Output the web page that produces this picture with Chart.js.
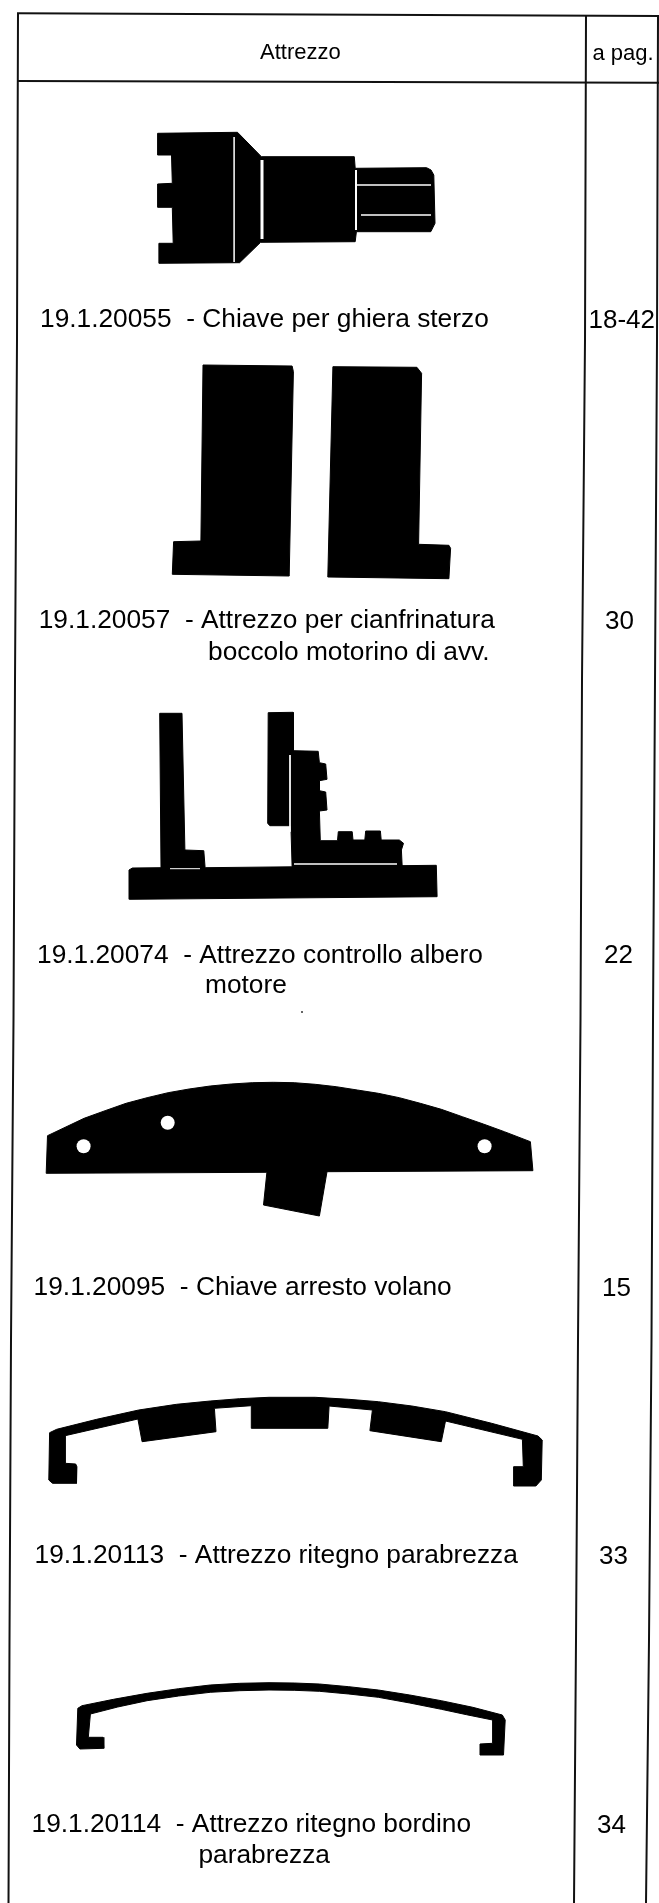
<!DOCTYPE html>
<html><head><meta charset="utf-8"><title>Attrezzo</title>
<style>html,body{margin:0;padding:0;background:#fff}canvas{display:block}</style>
<script src="https://cdn.jsdelivr.net/npm/chart.js@4/dist/chart.umd.min.js"></script>
</head><body><canvas id="c" width="659" height="1903"></canvas>
<script>
// Table rules
const ruleLeft=[[18,13],[17,340],[15,680],[13.5,1020],[11,1340],[9.5,1640],[8.5,1903]];
const ruleMiddle=[[586,15],[585,340],[582,680],[580.5,1020],[578,1340],[576,1640],[574,1903]];
const ruleRight=[[658,16],[657,340],[655,680],[653,1020],[651.5,1340],[649,1640],[646,1903]];
const ruleTop=[[17,13.3],[659,16]];
const ruleHeader=[[17,81],[659,82.7]];

// Silhouettes
const tool1=[[157.6,133.3],[237.5,132.3],[261.4,156.7],[354.3,156.7],[355.2,168.3],[426.6,167.7],[431,170],[433.8,175],[435,223.3],[430.8,231.7],[356.4,231.7],[355.2,241.7],[260.6,242.3],[239.6,262.7],[158.9,263.3],[158.9,243.3],[173.2,243.3],[172.3,207.3],[157.6,207.3],[157.6,184],[172.3,183.3],[171.5,155],[157.6,155]];
const tool1Marks=[[[234.1,137],[234.1,262]],[[262,160],[262,239]],[[356,170],[356,230]],[[356,185],[431,185]],[[361,215],[431,215]]];
const tool2Left=[[203,365],[292.1,366],[293.4,371.7],[289.2,576],[172.3,574.3],[173.6,541.7],[200.9,541]];
const tool2Right=[[332.9,366.7],[416.9,367.3],[421.6,373.3],[418.6,544.3],[448.9,545.3],[450.6,548.3],[448.9,578.7],[327.8,577]];
const tool3Base=[[159.7,713.3],[182,713.3],[184.9,850],[203.8,850.7],[205.1,867.7],[436.3,865.3],[437.1,896.7],[129.5,899.3],[129,870],[132.4,868],[161,867.7]];
const tool3Block=[[268.2,712.7],[293,712.3],[293.4,750.7],[318.2,751.3],[319.4,762.7],[325.7,764],[327,779.3],[319.4,780.7],[319.4,790.7],[325.7,792],[327,810],[319.4,811],[320.3,840.7],[337.5,840.7],[338.3,831.7],[352.2,831.7],[353,840],[364.8,840],[365.7,831],[380.4,831],[381.2,840],[399.3,840],[403.5,843.3],[401.4,850],[402.2,866.7],[292.1,866.7],[290.9,825.7],[269.8,825.7],[267.7,823.3]];
const tool3Marks=[[[290,755],[290,831.7]],[[294,864],[397,864]],[[170,868.7],[200,868.7]]];
const tool4=[[47.5,1135.7],[84.1,1118.3],[105.1,1110.7],[126.1,1103.3],[147.1,1097.7],[168.1,1092.7],[189.1,1089],[210.2,1086],[231.2,1084],[252.2,1082.7],[273.2,1082.3],[294.2,1082.7],[315.2,1084.3],[336.2,1086.7],[357.3,1090],[378.3,1093.3],[399.3,1097.7],[420.3,1103.3],[441.3,1109.3],[462.3,1116.7],[483.3,1124],[504.4,1131.7],[530.4,1141.7],[532.9,1170.7],[327,1171.7],[319.4,1216],[263.5,1205],[266.9,1172.3],[46.2,1173.3]];
const tool4Holes=[[83.6,1146.3],[167.7,1122.7],[484.6,1146.3]];
const tool5=[[49.6,1432.7],[56.7,1429.3],[96.7,1419.3],[138.7,1410],[176.5,1404.3],[210.2,1401],[239.6,1398.7],[269,1397.3],[315.2,1397.3],[348.8,1399.3],[378.3,1401.7],[411.9,1406],[445.5,1411.7],[491.7,1423.3],[538,1436],[542.2,1440],[541.3,1480],[535.9,1486],[513.6,1486],[513.6,1466.7],[523.3,1466.7],[522.4,1439.3],[445.5,1421],[441.3,1441.7],[369.9,1430.7],[372.4,1410],[329.1,1406],[327.8,1428.3],[251.3,1428.3],[251.3,1405.7],[214.4,1408.3],[216,1431.7],[142.1,1441.7],[137.9,1419],[65.1,1435.7],[65.1,1463.3],[75.7,1464],[76.9,1466.7],[76.5,1483.3],[52.5,1483.3],[48.8,1480]];
const tool6=[[77.8,1708.3],[82,1705.7],[113.5,1699.3],[147.1,1693.3],[178.6,1688.7],[210.2,1685],[239.6,1683.3],[269,1682.7],[294.2,1683],[319.4,1684],[348.8,1686.7],[378.3,1690],[409.8,1695],[441.3,1700.7],[472.8,1707.3],[502.3,1715],[505.2,1720],[503.5,1755],[480,1755],[480,1744],[492.6,1743.3],[492.6,1720],[466.5,1714.7],[441.3,1709.3],[409.8,1703],[378.3,1697.3],[348.8,1694],[319.4,1691.3],[294.2,1690.3],[269,1690],[239.6,1690.7],[210.2,1692.3],[178.6,1696],[147.1,1700.7],[117.7,1707],[90.4,1714],[88.3,1737.3],[103,1737.3],[103.8,1748.3],[79.9,1749],[76.5,1745]];
const specks=[[302,1012]];

// Text: [string, x, baseline y]
const headerLabels=[["Attrezzo",260,59],["a pag.",592.5,60]];
const codeLabels=[
 ["19.1.20055  - Chiave per ghiera sterzo",40,327],
 ["19.1.20057  - Attrezzo per cianfrinatura",38.7,628],
 ["boccolo motorino di avv.",208,660],
 ["19.1.20074  - Attrezzo controllo albero",37,963],
 ["motore",205,993],
 ["19.1.20095  - Chiave arresto volano",33.6,1295],
 ["19.1.20113  - Attrezzo ritegno parabrezza",34.5,1563],
 ["19.1.20114  - Attrezzo ritegno bordino",31.5,1832],
 ["parabrezza",198.4,1863]];
const pageLabels=[["18-42",588.5,328],["30",605,629],["22",604,963],["15",602,1296],["33",599,1564],["34",597,1833]];

const pts=a=>a.map(([x,y])=>({x,y}));
const datasets=[];
const black='#000', white='#fff';
function line(a,w,c,order){datasets.push({data:pts(a),showLine:true,fill:false,borderColor:c,borderWidth:w,pointRadius:0,tension:0,order,clip:false});}
function shape(a){datasets.push({data:pts(a.concat([a[0]])),showLine:true,fill:'shape',backgroundColor:black,borderColor:black,borderWidth:1,borderJoinStyle:'round',pointRadius:0,tension:0,order:2});}
[ruleLeft,ruleMiddle,ruleRight,ruleTop,ruleHeader].forEach(a=>line(a,2,'#111',3));
[tool1,tool2Left,tool2Right,tool3Base,tool3Block,tool4,tool5,tool6].forEach(shape);
tool1Marks.forEach((a,i)=>line(a,[1.5,3,2,1.5,1.5][i],white,1));
tool3Marks.forEach((a,i)=>line(a,[1,1.5,1][i],white,1));
datasets.push({data:pts(tool4Holes),showLine:false,pointRadius:7,pointBackgroundColor:white,pointBorderWidth:0,order:1});
datasets.push({data:pts(specks),showLine:false,pointRadius:1,pointBackgroundColor:'#333',pointBorderWidth:0,order:1});

const textPlugin={id:'tableText',afterDatasetsDraw(chart){
  const {ctx,scales:{x,y}}=chart;
  const draw=(list,size)=>{ctx.font=size+'px "Liberation Sans"';ctx.fillStyle='#000';ctx.textAlign='left';ctx.textBaseline='alphabetic';
    list.forEach(([s,px,py])=>ctx.fillText(s,x.getPixelForValue(px),y.getPixelForValue(py)));};
  draw(headerLabels,22);draw(codeLabels,26.3);draw(pageLabels,26);
}};
new Chart(document.getElementById('c'),{type:'scatter',data:{datasets},plugins:[textPlugin],options:{
  responsive:false,animation:false,devicePixelRatio:1,
  layout:{padding:0,autoPadding:false},
  plugins:{legend:{display:false},tooltip:{enabled:false},title:{display:false}},
  scales:{x:{type:'linear',min:0,max:659,display:false},y:{type:'linear',min:0,max:1903,reverse:true,display:false}}
}});
</script></body></html>
